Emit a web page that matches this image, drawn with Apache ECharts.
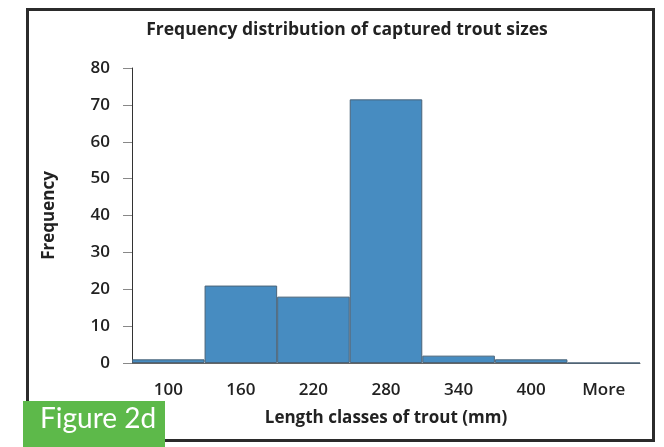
<!DOCTYPE html>
<html>
<head>
<meta charset="utf-8">
<title>Frequency distribution of captured trout sizes</title>
<script src="https://cdn.jsdelivr.net/npm/echarts@6/dist/echarts.min.js"></script>
<style>
    html, body { margin: 0; padding: 0; background: #fff; }
    #chart { width: 664px; height: 447px; }
</style>
</head>
<body>
<div id="chart"></div>
<script>
// Length classes (bin upper bounds) and counts
var lengthClasses = ['100', '160', '220', '280', '340', '400', 'More'];
var frequency     = [1, 21, 18, 71.5, 2, 1, 0];
var yTicks        = { min: 0, max: 80, interval: 10 };

(function () {
    var chart = echarts.init(document.getElementById('chart'));
    var font = '"Open Sans", "Noto Sans", sans-serif';

    chart.setOption({
        backgroundColor: '#fff',
        animation: false,
        title: {
            text: 'Frequency distribution of captured trout sizes',
            left: 342,
            textAlign: 'center',
            top: 16,
            textStyle: { fontFamily: font, fontSize: 17.5, fontWeight: 'bold', color: '#222' }
        },
        grid: { left: 132, right: 24, top: 68, bottom: 84 },
        xAxis: {
            type: 'category',
            data: lengthClasses,
            name: 'Length classes of trout (mm)',
            nameLocation: 'middle',
            nameGap: 47,
            nameTextStyle: { fontFamily: font, fontSize: 17, fontWeight: 'bold', color: '#222' },
            axisLine: { lineStyle: { color: '#666', width: 1 } },
            axisTick: { length: 8, lineStyle: { color: '#333' } },
            axisLabel: { margin: 19, fontFamily: font, fontSize: 17, fontWeight: 600, color: '#222' },
            splitLine: { show: false }
        },
        yAxis: {
            type: 'value',
            min: yTicks.min,
            max: yTicks.max,
            interval: yTicks.interval,
            name: 'Frequency',
            nameLocation: 'middle',
            nameGap: 74,
            nameTextStyle: { fontFamily: font, fontSize: 17, fontWeight: 'bold', color: '#222' },
            axisLine: { show: true, lineStyle: { color: '#333', width: 1 } },
            axisTick: { show: true, length: 9, lineStyle: { color: '#888' } },
            axisLabel: { margin: 22, fontFamily: font, fontSize: 17, fontWeight: 600, color: '#222' },
            splitLine: { show: false }
        },
        series: [{
            type: 'bar',
            data: frequency,
            barCategoryGap: 0,
            itemStyle: { color: '#478cc1', borderColor: '#4a6378', borderWidth: 1 }
        }],
        graphic: [
            // outer frame
            { type: 'rect', left: 25, top: 7, z: 100,
              shape: { width: 626, height: 431 },
              style: { fill: null, stroke: '#2b2b2b', lineWidth: 3 } },
            // figure tag
            { type: 'rect', left: 23, top: 401, z: 101,
              shape: { width: 142, height: 46 },
              style: { fill: '#5db94a' } },
            { type: 'text', left: 40, top: 405, z: 102,
              style: { text: 'Figure 2d', fill: '#fff', font: '28px Lato, "Open Sans", sans-serif' } }
        ]
    });

    window.addEventListener('resize', function () { chart.resize(); });
})();
</script>
</body>
</html>
